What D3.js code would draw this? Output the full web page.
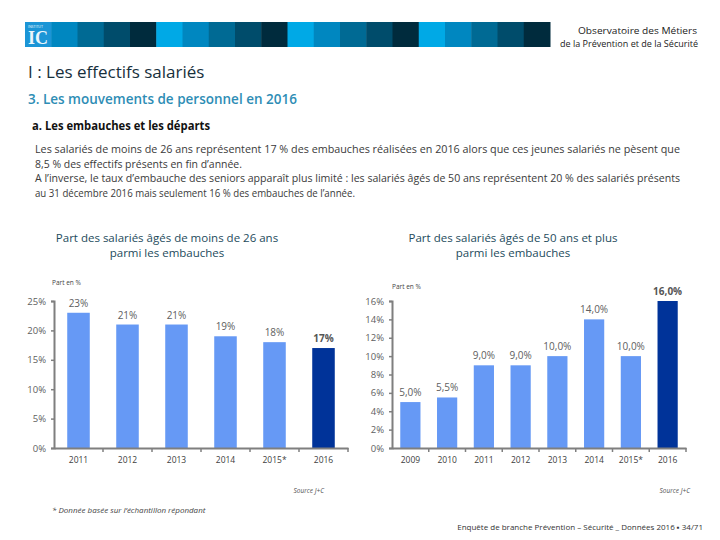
<!DOCTYPE html>
<html><head><meta charset="utf-8">
<script src="https://cdn.jsdelivr.net/npm/d3@7/dist/d3.min.js"></script>
<style>
html,body{margin:0;padding:0;background:#fff;}
svg{display:block;}
</style></head>
<body>
<script>
// ---- data ----
const youngYears = ["2011","2012","2013","2014","2015*","2016"];
const youngValues = [23,21,21,19,18,17];
const youngLabels = ["23%","21%","21%","19%","18%","17%"];
const youngTicks = [0,5,10,15,20,25];
const youngTickLabels = ["0%","5%","10%","15%","20%","25%"];

const seniorYears = ["2009","2010","2011","2012","2013","2014","2015*","2016"];
const seniorValues = [5.0,5.5,9.0,9.0,10.0,14.0,10.0,16.0];
const seniorLabels = ["5,0%","5,5%","9,0%","9,0%","10,0%","14,0%","10,0%","16,0%"];
const seniorTicks = [0,2,4,6,8,10,12,14,16];
const seniorTickLabels = ["0%","2%","4%","6%","8%","10%","12%","14%","16%"];

const headerColors = ["#00a9e6","#0087c0","#006a94","#004c6b","#002b3d"];

const W=720,H=540;
const SANS = "'Open Sans','Noto Sans',sans-serif";
const svg = d3.select("body").append("svg").attr("width",W).attr("height",H);

function fit(sel,w){ sel.attr("textLength",w).attr("lengthAdjust","spacingAndGlyphs"); return sel; }

// ---- header bar ----
const hx = d3.scaleBand().domain(d3.range(20)).range([25,550]);
svg.append("g").selectAll("rect").data(d3.range(20)).join("rect")
  .attr("x",d=>hx(d)).attr("y",22).attr("width",hx.bandwidth()+0.5).attr("height",25)
  .attr("fill",d=>d===0?"#1b95d6":headerColors[d%5]);
svg.append("text").attr("x",28).attr("y",44).text("IC")
  .attr("font-family","'Liberation Serif',serif").attr("font-weight","bold")
  .attr("font-size",18).attr("fill","#eaf6fc");
svg.append("text").attr("x",28).attr("y",28).text("INSTITUT")
  .attr("font-family",SANS).attr("font-size",3.5).attr("fill","#eaf6fc");

const hdr = svg.append("g").attr("font-family",SANS).attr("font-size",9).attr("fill","#222");
fit(hdr.append("text").attr("x",578).attr("y",34).text("Observatoire des Métiers"),119);
fit(hdr.append("text").attr("x",560).attr("y",47).text("de la Prévention et de la Sécurité"),138);

// ---- titles ----
svg.append("text").attr("x",28).attr("y",78).text("I : Les effectifs salariés")
  .attr("font-family",SANS).attr("font-size",17).attr("fill","#17303c");
svg.append("text").attr("x",28).attr("y",104).text("3. Les mouvements de personnel en 2016")
  .attr("font-family",SANS).attr("font-size",13.5).attr("font-weight","600").attr("fill","#2e8db5");
fit(svg.append("text").attr("x",32).attr("y",130).text("a. Les embauches et les départs")
  .attr("font-family",SANS).attr("font-size",12.5).attr("font-weight","bold").attr("fill","#111"),178);

const para = [
  "Les salariés de moins de 26  ans représentent 17 % des embauches réalisées en 2016  alors que ces jeunes salariés ne pèsent que",
  "8,5 % des effectifs présents en fin d’année.",
  "A l’inverse, le taux d’embauche des seniors apparaît plus limité : les salariés âgés de 50 ans représentent 20 % des salariés présents",
  "au 31 décembre 2016 mais seulement 16 % des embauches de l’année."
];
const paraWidths = [645,207,645,320];
svg.append("g").attr("font-family",SANS).attr("font-size",11).attr("fill","#3a3a3a")
  .selectAll("text").data(para).join("text")
  .attr("x",35).attr("y",(d,i)=>153+i*14.5).text(d=>d)
  .attr("textLength",(d,i)=>paraWidths[i]).attr("lengthAdjust","spacingAndGlyphs");

// ---- chart builder ----
function drawChart(o){
  const g = svg.append("g");
  const x = d3.scaleBand().domain(o.cats).range([o.x0,o.x1]).paddingInner(o.pad).paddingOuter(o.pad/2);
  const y = d3.scaleLinear().domain([0,o.max]).range([o.y0,o.y1]);
  // title
  g.append("g").attr("font-family",SANS).attr("font-size",11.5).attr("fill","#1d4b5c").attr("text-anchor","middle")
    .selectAll("text").data(o.title).join("text").attr("x",o.tx).attr("y",(d,i)=>242+i*15).text(d=>d);
  g.append("text").attr("x",o.px).attr("y",o.py).text("Part en %")
    .attr("font-family",SANS).attr("font-size",6.5).attr("fill","#444");
  // bars
  g.append("g").selectAll("rect").data(o.vals).join("rect")
    .attr("x",(d,i)=>x(o.cats[i])).attr("width",x.bandwidth())
    .attr("y",d=>y(d)).attr("height",d=>y(0)-y(d))
    .attr("fill",(d,i)=>i===o.vals.length-1?"#003399":"#6699f5");
  // value labels
  g.append("g").attr("font-family",SANS).attr("font-size",10).attr("text-anchor","middle")
    .selectAll("text").data(o.vals).join("text")
    .attr("x",(d,i)=>x(o.cats[i])+x.bandwidth()/2)
    .attr("y",d=>y(d)-6)
    .attr("fill",(d,i)=>i===o.vals.length-1?"#555":"#606060")
    .attr("font-weight",(d,i)=>i===o.vals.length-1?"bold":"normal")
    .text((d,i)=>o.labels[i]);
  // y axis
  const ya = d3.axisLeft(y).tickValues(o.ticks).tickSize(3).tickPadding(5)
    .tickFormat((d,i)=>o.tickLabels[i]);
  const yg = g.append("g").attr("transform",`translate(${o.x0},0)`).call(ya);
  yg.select(".domain").attr("stroke","#7f7f7f").attr("stroke-width",2);
  yg.selectAll(".tick line").attr("stroke","#7f7f7f").attr("stroke-width",1.5);
  yg.selectAll(".tick text").attr("font-family",SANS).attr("font-size",9.5).attr("fill","#606060");
  // x axis
  const xa = d3.axisBottom(x).tickSize(0).tickPadding(9);
  const xg = g.append("g").attr("transform",`translate(0,${o.y0})`).call(xa);
  xg.select(".domain").attr("stroke","#7f7f7f").attr("stroke-width",2);
  xg.selectAll(".tick text").attr("font-family",SANS).attr("font-size",8.5).attr("fill","#404040");
  // x tick marks at band boundaries
  const bounds = o.cats.map((c,i)=>o.x0+(i+1)*((o.x1-o.x0)/o.cats.length));
  g.append("g").selectAll("line").data(bounds).join("line")
    .attr("x1",d=>d).attr("x2",d=>d).attr("y1",o.y0).attr("y2",o.y0+4)
    .attr("stroke","#7f7f7f").attr("stroke-width",1.5);
  // source
  g.append("text").attr("x",o.sx).attr("y",493).attr("text-anchor","end").text("Source J+C")
    .attr("font-family",SANS).attr("font-style","italic").attr("font-size",6.5).attr("fill","#555");
}

drawChart({cats:youngYears, vals:youngValues, labels:youngLabels, ticks:youngTicks, tickLabels:youngTickLabels,
  max:25, x0:54, x1:348, y0:448, y1:301, pad:0.54,
  title:["Part des salariés âgés de moins de 26 ans","parmi les embauches"], tx:167, px:52, py:285, sx:324});
drawChart({cats:seniorYears, vals:seniorValues, labels:seniorLabels, ticks:seniorTicks, tickLabels:seniorTickLabels,
  max:16, x0:392, x1:686, y0:448, y1:301, pad:0.45,
  title:["Part des salariés âgés de 50 ans et plus","parmi les embauches"], tx:513, px:392, py:289, sx:690});

// footnotes
svg.append("text").attr("x",52).attr("y",513).text("* Donnée basée sur l’échantillon répondant")
  .attr("font-family",SANS).attr("font-style","italic").attr("font-size",8).attr("fill","#444");
svg.append("text").attr("x",703).attr("y",530).attr("text-anchor","end").text("Enquête de branche Prévention – Sécurité _ Données 2016  ▪  34/71")
  .attr("font-family",SANS).attr("font-size",8).attr("fill","#333");
</script>
</body></html>
